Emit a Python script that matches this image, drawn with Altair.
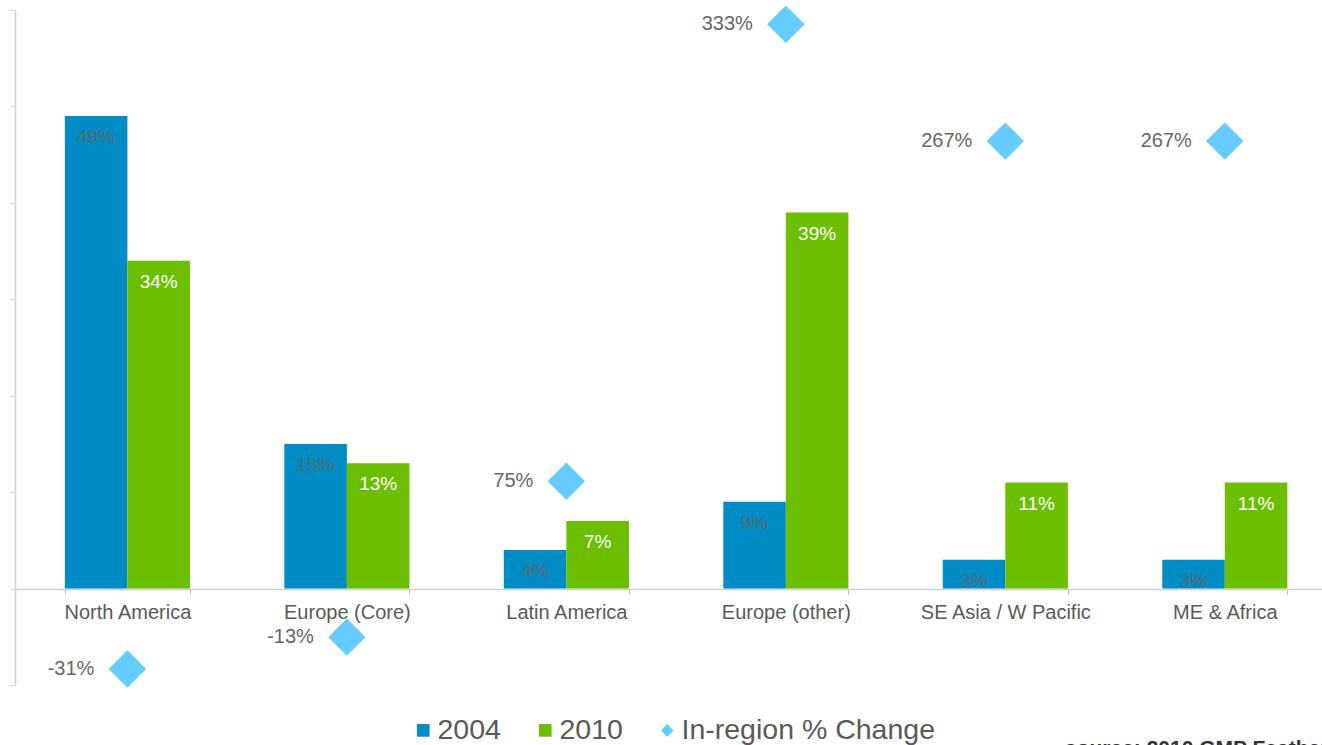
import altair as alt
import pandas as pd

categories = ["North America", "Europe (Core)", "Latin America",
              "Europe (other)", "SE Asia / W Pacific", "ME & Africa"]
share_2004 = [49, 15, 4, 9, 3, 3]
share_2010 = [34, 13, 7, 39, 11, 11]
pct_change = [-31, -13, 75, 333, 267, 267]
series_names = ["2004", "2010", "In-region % Change"]
series_colors = ["#008cc4", "#6cbf00", "#66ccff"]
series_shapes = ["square", "square", "diamond"]
source_note = ["source: 2010 GMP Feather"]

bars_df = pd.DataFrame({
    "region": categories * 2,
    "series": ["2004"] * len(categories) + ["2010"] * len(categories),
    "value": share_2004 + share_2010,
})
bars_df["label"] = bars_df["value"].astype(str) + "%"

chg_df = pd.DataFrame({
    "region": categories,
    "series": ["In-region % Change"] * len(categories),
    "value": pct_change,
})
chg_df["label"] = chg_df["value"].astype(str) + "%"

FONT = "Liberation Sans"
GRAY = "#595959"
AXIS_GRAY = "#d0d0d0"

x_enc = alt.X(
    "region:N", sort=categories,
    scale=alt.Scale(paddingInner=0.43, paddingOuter=0.1925, align=0.59),
    axis=alt.Axis(title=None, offset=-96, tickBand="extent", labelAngle=0,
                  labelFontSize=20, labelColor=GRAY, labelFont=FONT,
                  domainColor=AXIS_GRAY, domainWidth=1.5, tickColor="#bbbbbb",
                  tickSize=5, labelPadding=8, labelLimit=0),
)
xoff = alt.XOffset("series:N", scale=alt.Scale(domain=["2004", "2010"], paddingInner=0, paddingOuter=0))

legend_cfg = dict(title=None, orient="none", legendX=394, legendY=706, direction="horizontal",
                  labelFontSize=28.5, labelColor=GRAY, labelFont=FONT, symbolSize=160,
                  columnPadding=30, labelOffset=0, symbolOpacity=1, symbolStrokeWidth=0,
                  labelLimit=0)

color_enc = alt.Color("series:N", scale=alt.Scale(domain=series_names, range=series_colors),
                      legend=alt.Legend(**legend_cfg))
shape_enc = alt.Shape("series:N", scale=alt.Scale(domain=series_names, range=series_shapes),
                      legend=alt.Legend(**legend_cfg))

y_share = alt.Y("value:Q", scale=alt.Scale(domain=[-10, 60], nice=False, zero=False),
                axis=alt.Axis(title=None, labels=False, grid=False, values=list(range(-10, 61, 10)),
                              domainColor=AXIS_GRAY, domainWidth=1.5, tickColor=AXIS_GRAY, tickSize=5))
y_share_noaxis = alt.Y("value:Q", scale=alt.Scale(domain=[-10, 60], nice=False, zero=False), axis=None)
y_chg = alt.Y("value:Q", scale=alt.Scale(domain=[-40, 341], nice=False, zero=False), axis=None)

bars = alt.Chart(bars_df).mark_bar().encode(x=x_enc, xOffset=xoff, y=y_share, color=color_enc)

bar_labels = alt.Chart(bars_df).mark_text(dy=21, baseline="middle", fontSize=19, font=FONT).encode(
    x=x_enc, xOffset=xoff, y=y_share_noaxis, text="label:N",
    color=alt.condition(alt.datum.series == "2004", alt.value("#5a6a74"), alt.value("white")),
)

points = alt.Chart(chg_df).mark_point(filled=True, size=1400, opacity=1).encode(
    x=x_enc, y=y_chg, color=color_enc, shape=shape_enc)

point_labels = alt.Chart(chg_df).mark_text(align="right", dx=-33, baseline="middle",
                                           fontSize=20, font=FONT, color="#666666").encode(
    x=x_enc, y=y_chg, text="label:N")

source = alt.Chart(pd.DataFrame({"t": source_note})).mark_text(
    align="left", baseline="top", fontSize=21, font=FONT, fontWeight="bold", color="#333333"
).encode(x=alt.value(1050), y=alt.value(728), text="t:N")

chart = alt.layer(bars, bar_labels, points, point_labels, source).resolve_scale(
    y="independent"
).properties(
    width=1307, height=675, autosize="none", background="white",
    padding={"left": 15, "top": 10, "right": 0, "bottom": 60},
).configure_view(stroke=None)

chart.save("out.html", embed_options={"renderer": "svg", "actions": False})
